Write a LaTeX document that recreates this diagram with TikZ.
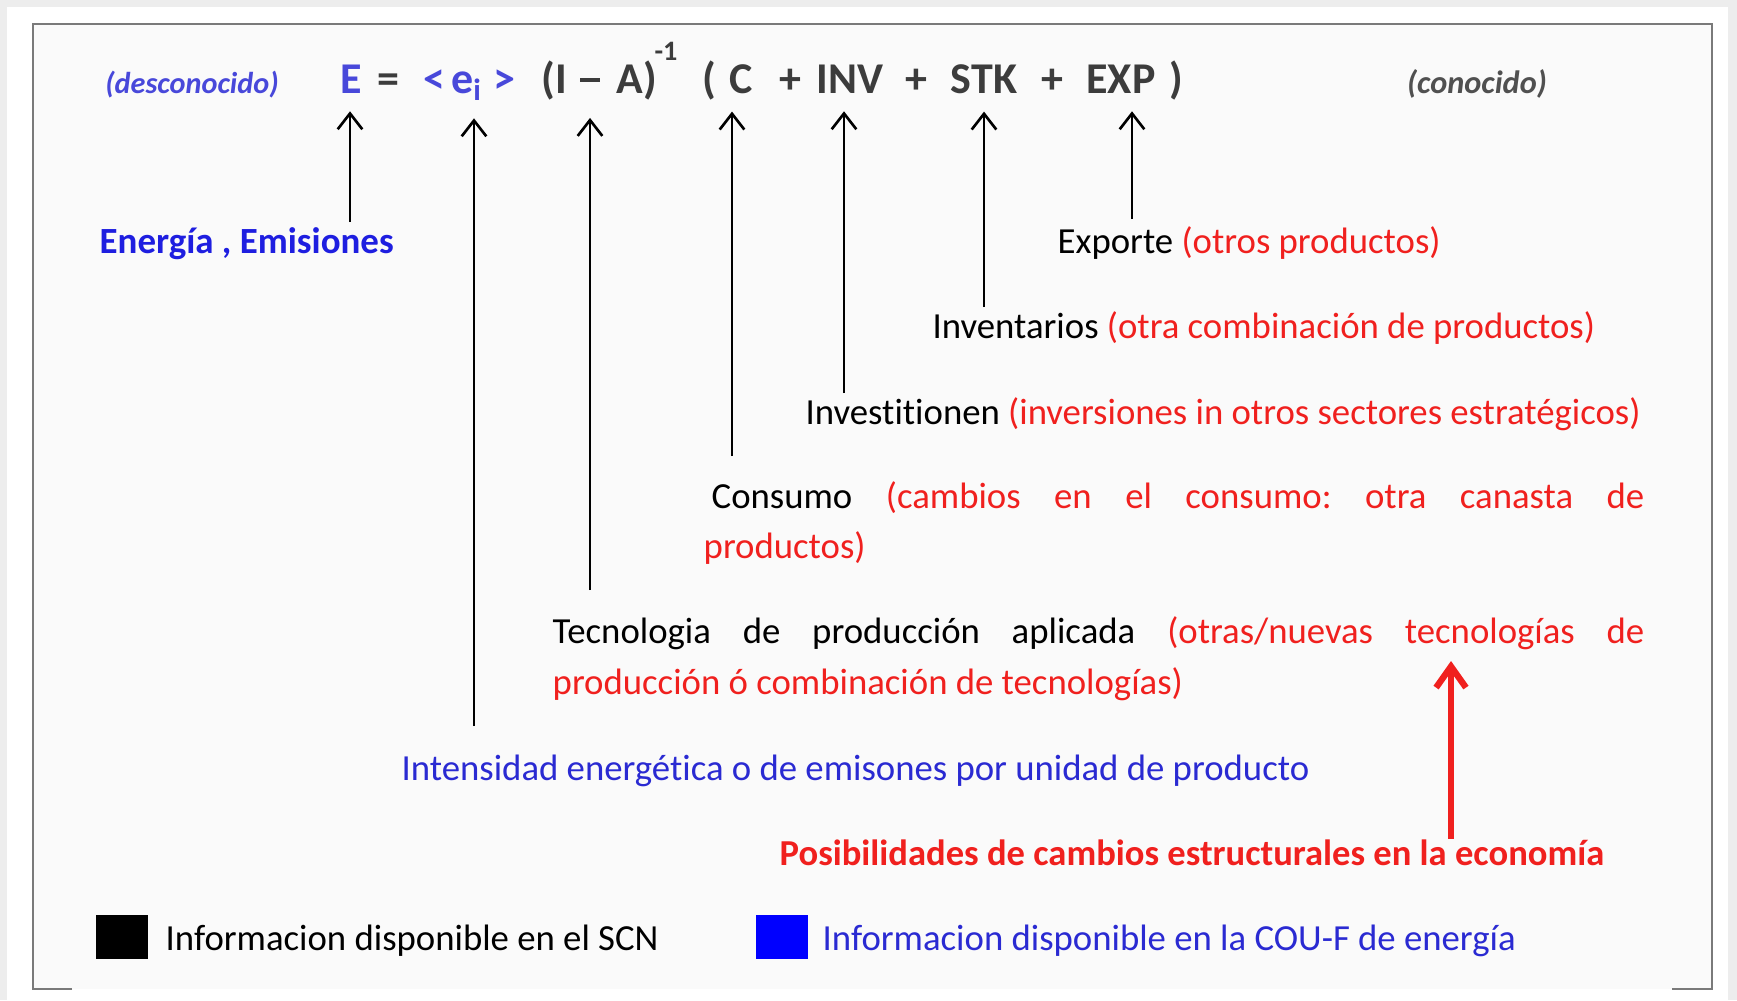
\documentclass[tikz,border=0pt]{standalone}
\usepackage{fontspec}
\setmainfont{Carlito}[Ligatures=NoCommon]
\usetikzlibrary{arrows.meta}
\definecolor{eqgray}{HTML}{3C3C3C}
\definecolor{eqblue}{HTML}{4848DA}
\definecolor{lblblue}{HTML}{1E1EE0}
\definecolor{txtblue}{HTML}{2A2AD2}
\definecolor{txtred}{HTML}{F0201E}
\definecolor{framegray}{HTML}{7A7A7A}
\newcommand\rd[1]{\textcolor{txtred}{#1}}
\frenchspacing

\begin{document}
\begin{tikzpicture}[x=0.01cm,y=-0.01cm,
  tok/.style={inner sep=0,anchor=base,font=\fontsize{12.5}{15}\selectfont\bfseries,text=eqgray},
  lbl/.style={inner sep=0,anchor=base west,font=\fontsize{10.45}{14.5}\selectfont},
  arr/.style={line width=0.75pt,-{Straight Barb[length=4.5pt,width=7pt,line width=0.75pt]}},
  redarr/.style={txtred,line width=1.8pt,-{Straight Barb[length=6pt,width=8.5pt,line width=1.8pt]}},
  sq/.style={inner sep=0,minimum width=0.51cm,minimum height=0.44cm}]
  % background and frame
  \fill[black!7] (0,0) rectangle (1737,1000);
  \fill[white] (7,7) rectangle (1728,1000);
  \fill[black!2] (33,24) rectangle (1712,989);
  \draw[framegray,line width=0.75pt] (72,989) -| (33,24) -| (1712,989) -- (1672,989);

  % the equation
  \node[tok,font=\fontsize{8.6}{12}\selectfont\bfseries\itshape,text=eqblue] (unk) at (192,93) {(desconocido)};
  \node[tok,text=eqblue] (tE) at (351,93) {E};
  \node[tok] (teq) at (388,93) {=};
  \node[tok,text=eqblue] (tlt) at (434,93) {<};
  \node[tok,text=eqblue] (tei) at (467,93) {e\textsubscript{i}};
  \node[tok,text=eqblue] (tgt) at (504,93) {>};
  \node[tok] (tI) at (554,93) {(I};
  \node[tok] (tmin) at (590,93) {\rule[0.24em]{0.45em}{0.09em}};
  \node[tok] (tA) at (637,93) {A)};
  \node[tok,font=\fontsize{8}{10}\selectfont\bfseries] (tinv) at (666,60) {-1};
  \node[tok] (tpl) at (709,93) {(};
  \node[tok] (tC) at (741,93) {C};
  \node[tok] (tp1) at (790,93) {+};
  \node[tok] (tINV) at (850,93) {INV};
  \node[tok] (tp2) at (916,93) {+};
  \node[tok] (tSTK) at (984,93) {STK};
  \node[tok] (tp3) at (1052,93) {+};
  \node[tok] (tEXP) at (1121,93) {EXP};
  \node[tok] (tpr) at (1176,93) {)};
  \node[tok,font=\fontsize{9.2}{12}\selectfont\bfseries\itshape,text=eqgray!90] (kno) at (1477,93) {(conocido)};

  % the labels
  \node[lbl,font=\fontsize{10.5}{14}\selectfont\bfseries,text=lblblue] (lblE) at (99,253) {Energía , Emisiones};
  \node[lbl] (lblEXP) at (1057,253) {Exporte \rd{(otros productos)}};
  \node[lbl] (lblSTK) at (932,338) {Inventarios \rd{(otra combinación de productos)}};
  \node[lbl] (lblINV) at (805,424) {Investitionen \rd{(inversiones in otros sectores estratégicos)}};
  \node[lbl,text width=9.40cm,align=justify] (lblC) at (703,508)
    {\hspace*{0.08cm}Consumo \rd{(cambios en el consumo: otra canasta de\linebreak productos)}};
  \node[lbl,text width=10.91cm,align=justify] (lblIA) at (552,643)
    {Tecnologia de producción aplicada \rd{(otras/nuevas tecnologías de\linebreak producción ó combinación de tecnologías)}};
  \node[lbl,text=txtblue] (lblEi) at (401,780) {Intensidad energética o de emisones por unidad de producto};
  \node[lbl,font=\fontsize{10.4}{14}\selectfont\bfseries,text=txtred] (lblPos) at (779,865)
    {Posibilidades de cambios estructurales en la economía};

  % arrows up to the equation
  \coordinate (bE) at (350,222);
  \coordinate (bEi) at (474,726);
  \coordinate (bIA) at (590,590);
  \coordinate (bC) at (732,456);
  \coordinate (bINV) at (844,393);
  \coordinate (bSTK) at (984,307);
  \coordinate (bEXP) at (1132,219);
  \draw[arr,shorten >=5pt] (bE) -- (bE |- tE.south);
  \draw[arr,shorten >=5pt] (bEi) -- (bEi |- tei.south);
  \draw[arr,shorten >=5pt] (bIA) -- (bIA |- tA.south);
  \draw[arr,shorten >=5pt] (bC) -- (bC |- tC.south);
  \draw[arr,shorten >=5pt] (bINV) -- (bINV |- tINV.south);
  \draw[arr,shorten >=5pt] (bSTK) -- (bSTK |- tSTK.south);
  \draw[arr,shorten >=5pt] (bEXP) -- (bEXP |- tEXP.south);
  \coordinate (tRed) at (1451,661);
  \draw[redarr] (tRed |- lblPos.north) -- (tRed);

  % legend
  \node[sq,fill=black] (sqSCN) at (122,937) {};
  \node[sq,fill=blue] (sqCOU) at (782,937) {};
  \node[lbl] (legSCN) at (165,950) {Informacion disponible en el SCN};
  \node[lbl,text=txtblue] (legCOU) at (822,950) {Informacion disponible en la COU-F de energía};
\end{tikzpicture}
\end{document}
